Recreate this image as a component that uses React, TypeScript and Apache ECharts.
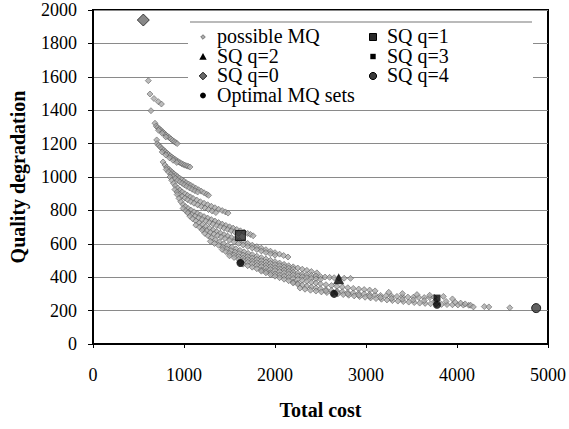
import React, { useEffect, useRef } from "react";
import * as echarts from "echarts";

const FONT = "Liberation Serif";
const SERIF20 = "20px 'Liberation Serif'";

// ---- tick labels ----
const xTickLabels = [0, 1000, 2000, 3000, 4000, 5000];
const yTickLabels = [0, 200, 400, 600, 800, 1000, 1200, 1400, 1600, 1800, 2000];

// ---- legend entries (column, row) ----
const legendNames = ["possible MQ", "SQ q=2", "SQ q=0", "Optimal MQ sets", "SQ q=1", "SQ q=3", "SQ q=4"];

// ---- possible MQ (grey cloud), read band by band ----
const topIsolated = [[608,1577],[626,1497],[670,1470],[718,1451],[752,1437],[637,1397]];
const bandA = [[681,1322],[695,1305],[712,1297],[730,1288],[748,1279],[766,1270],[784,1261],[802,1252],[820,1244],[838,1236],[856,1228],[874,1220],[892,1212],[910,1206],[925,1200],[720,1280],[760,1262],[800,1240]];
const bandB = [[700,1222],[705,1200],[722,1190],[740,1180],[758,1170],[776,1161],[794,1152],[812,1143],[830,1135],[848,1127],[866,1119],[884,1112],[902,1105],[920,1098],[938,1092],[956,1086],[974,1080],[992,1075],[1010,1071],[1028,1067],[1046,1064],[1066,1060],[760,1150],[800,1132],[840,1115],[880,1100],[920,1087]];
const bandC = [[770,1090],[790,1072],[810,1058],[830,1048],[850,1038],[870,1028],[890,1019],[910,1010],[930,1002],[950,994],[975,984],[1000,975],[1025,966],[1050,958],[1075,950],[1100,942],[1130,933],[1160,924],[1190,915],[1220,906],[1250,897],[1270,890]];
const bandC2 = [[805,1045],[830,1030],[855,1016],[880,1003],[905,992],[930,981],[955,971],[980,962],[1005,953],[1030,944],[1060,935],[1090,926],[1120,918],[1150,910]];
const band2 = [[846,1000],[865,980],[885,962],[905,947],[930,934],[955,922],[980,911],[1010,900],[1040,890],[1070,881],[1100,872],[1140,862],[1180,852],[1220,843],[1260,834],[1300,825],[1340,816],[1380,807],[1420,799],[1455,791],[1484,784]];
const band2b = [[900,925],[925,910],[950,897],[980,885],[1010,874],[1040,864],[1075,853],[1110,843],[1150,833],[1190,823],[1230,814],[1270,805],[1310,796],[1350,787]];
const band3 = [[925,895],[945,872],[965,852],[990,835],[1015,823],[1045,812],[1075,802],[1110,792],[1145,782],[1180,773],[1220,763],[1260,754],[1300,745],[1340,736],[1380,727],[1420,718],[1460,710],[1500,702],[1540,694],[1580,686],[1620,678],[1660,670],[1700,662],[1730,656],[1760,648]];
const band3b = [[990,812],[1020,798],[1050,787],[1085,776],[1120,766],[1160,756],[1200,746],[1240,737],[1280,728],[1320,719],[1360,710],[1400,702],[1440,694],[1480,686],[1520,678],[1560,670],[1600,662]];
const band4 = [[1040,785],[1065,765],[1095,750],[1130,737],[1165,725],[1200,714],[1240,703],[1280,693],[1320,683],[1360,673],[1400,664],[1440,655],[1480,646],[1520,638],[1565,629],[1610,620],[1655,611],[1700,602],[1750,592],[1800,583],[1850,574],[1900,565],[1950,556],[2000,547],[2050,538],[2095,530],[2143,521]];
const band4b = [[1130,712],[1170,700],[1210,689],[1250,679],[1290,669],[1330,659],[1370,650],[1410,641],[1450,632],[1500,622],[1550,612],[1600,602],[1650,593],[1700,584],[1750,575],[1800,566],[1850,557],[1900,548],[1950,540],[2000,532]];
const band5 = [[1200,682],[1230,662],[1265,648],[1300,636],[1345,623],[1390,611],[1435,600],[1480,590],[1525,580],[1570,570],[1615,561],[1660,552],[1705,543],[1750,535],[1800,526],[1850,517],[1900,509],[1950,501],[2000,493],[2050,485],[2100,477],[2150,469],[2200,462],[2250,455],[2300,448],[2350,441],[2400,434],[2460,426]];
const band5b = [[1290,615],[1335,602],[1380,591],[1425,580],[1470,570],[1515,560],[1560,551],[1605,542],[1650,533],[1700,524],[1750,515],[1800,507],[1850,499],[1900,491],[1950,483],[2000,476],[2050,469],[2100,462],[2150,455],[2200,448]];
const band6 = [[1420,566],[1460,553],[1500,544],[1550,534],[1600,524],[1650,515],[1700,506],[1750,497],[1800,488],[1850,480],[1900,472],[1950,464],[2000,457],[2050,450],[2100,443],[2150,436],[2200,430],[2250,424],[2300,419],[2350,415],[2400,411],[2450,407],[2500,404],[2550,401],[2600,399],[2650,397],[2700,395],[2760,394],[2830,393]];
const band6b = [[1500,528],[1550,518],[1600,508],[1650,499],[1700,490],[1750,481],[1800,472],[1850,464],[1900,456],[1950,448],[2000,441],[2050,434],[2100,427],[2150,420],[2200,414],[2250,408],[2300,403],[2350,398],[2400,394],[2450,390],[2500,387]];
const band7 = [[1615,488],[1650,478],[1700,469],[1750,460],[1800,451],[1850,443],[1900,435],[1950,427],[2000,420],[2050,413],[2100,406],[2150,399],[2200,393],[2250,387],[2300,381],[2350,375],[2400,370],[2450,365],[2500,360],[2560,355],[2620,350],[2680,345],[2740,341],[2800,337],[2860,333],[2920,329],[2980,326],[3040,323]];
const band7b = [[1850,436],[1900,426],[1950,416],[2000,406],[2050,397],[2100,388],[2150,379],[2200,371],[2250,363]];
const band8 = [[2200,365],[2250,358],[2300,352],[2350,346],[2400,341],[2450,336],[2500,331],[2560,326],[2620,321],[2680,317],[2740,313],[2800,309],[2860,306],[2920,303],[2980,300],[3040,297],[3100,294],[3160,291],[3220,289],[3280,287],[3340,285],[3400,283],[3460,281],[3520,280],[3580,279],[3640,278],[3700,278],[3750,280]];
const band9 = [[2275,335],[2330,328],[2390,322],[2450,317],[2510,312],[2570,308],[2630,304],[2690,300],[2750,296],[2810,292],[2870,288],[2930,284],[2990,280],[3050,276],[3110,272],[3170,268],[3230,264],[3290,260],[3350,257],[3410,254],[3470,251],[3530,248],[3590,245],[3650,243],[3710,241],[3770,239],[3830,237],[3890,236],[3950,235],[4010,234],[4070,233],[4130,232]];
const band9b = [[2560,319],[2680,309],[2800,300],[2920,293],[3040,286],[3160,279],[3280,273],[3400,268],[3520,264],[3640,260],[3760,258],[3880,255],[3980,250]];
const upperRight = [[3100,318],[3250,310],[3400,302],[3560,296],[3700,292],[3850,285],[3950,270]];
const tail = [[4040,245],[4090,240],[4150,232],[4180,222],[4300,224],[4350,222],[4580,217]];

const possibleMQ = [
  ...topIsolated, ...bandA, ...bandB, ...bandC, ...bandC2, ...band2, ...band2b,
  ...band3, ...band3b, ...band4, ...band4b, ...band5, ...band5b, ...band6, ...band6b,
  ...band7, ...band7b, ...band8, ...band9, ...band9b, ...upperRight, ...tail,
];

// ---- single-quality and optimal sets ----
const sqQ0 = [[553, 1940]];
const sqQ1 = [[1620, 650]];
const sqQ2 = [[2700, 390]];
const sqQ3 = [[3780, 275]];
const sqQ4 = [[4870, 215]];
const optimalMQ = [[1620, 485], [2650, 300], [3780, 235]];

// legend layout (icon centre x per column, row centres)
const COL_X = [203, 373];
const ROW_Y = [37, 56.5, 76, 95.5];

function legendIcon(name: string, cx: number, cy: number): any {
  switch (name) {
    case "possible MQ":
      return { type: "polygon", z: 6, shape: { points: [[cx, cy - 2.3], [cx + 2.3, cy], [cx, cy + 2.3], [cx - 2.3, cy]] }, style: { fill: "#aaaaaa", stroke: "#555555", lineWidth: 0.7 } };
    case "SQ q=2":
      return { type: "polygon", z: 6, shape: { points: [[cx - 3.7, cy + 3.3], [cx, cy - 3.5], [cx + 3.7, cy + 3.3]] }, style: { fill: "#000" } };
    case "SQ q=0":
      return { type: "polygon", z: 6, shape: { points: [[cx, cy - 3.8], [cx + 3.8, cy], [cx, cy + 3.8], [cx - 3.8, cy]] }, style: { fill: "#6a6a6a", stroke: "#1a1a1a", lineWidth: 1 } };
    case "Optimal MQ sets":
      return { type: "circle", z: 6, shape: { cx, cy, r: 2.9 }, style: { fill: "#000" } };
    case "SQ q=1":
      return { type: "rect", z: 6, shape: { x: cx - 3.5, y: cy - 3.5, width: 7, height: 7 }, style: { fill: "#2a2a2a", stroke: "#000", lineWidth: 1 } };
    case "SQ q=3":
      return { type: "rect", z: 6, shape: { x: cx - 2.7, y: cy - 2.7, width: 5.4, height: 5.4 }, style: { fill: "#000" } };
    default:
      return { type: "circle", z: 6, shape: { cx, cy, r: 3.6 }, style: { fill: "#3a3a3a", stroke: "#000", lineWidth: 1 } };
  }
}

export default function App() {
  const ref = useRef<HTMLDivElement>(null);
  useEffect(() => {
    const chart = echarts.init(ref.current!, null, { renderer: "svg" });

    const legendEls: any[] = [
      { type: "rect", z: 1, shape: { x: 188, y: 22, width: 345, height: 84 }, style: { fill: "#fff" } },
      { type: "line", z: 1, shape: { x1: 190, y1: 22, x2: 532, y2: 22 }, style: { stroke: "#777", lineWidth: 1.2 } },
    ];
    legendNames.forEach((name, i) => {
      const col = i < 4 ? 0 : 1;
      const row = i < 4 ? i : i - 4;
      const cx = COL_X[col];
      const cy = ROW_Y[row];
      legendEls.push(legendIcon(name, cx, cy));
      legendEls.push({ type: "text", z: 6, x: cx + 14, y: cy - 11, style: { text: name, font: SERIF20, fill: "#000" } });
    });

    const option: any = {
      animation: false,
      backgroundColor: "#fff",
      grid: { left: 93, right: 21, top: 10, bottom: 85, show: true, borderColor: "#000", borderWidth: 2, backgroundColor: "transparent" },
      xAxis: {
        type: "value", min: 0, max: 5000, interval: 1000,
        name: "Total cost", nameLocation: "middle", nameGap: 56,
        nameTextStyle: { fontFamily: FONT, fontWeight: "bold", fontSize: 20, color: "#000" },
        axisLine: { show: true, lineStyle: { color: "#000", width: 2 } },
        axisTick: { show: true, length: 4, lineStyle: { color: "#000" } },
        axisLabel: { show: false },
        splitLine: { show: false },
      },
      yAxis: {
        type: "value", min: 0, max: 2000, interval: 200,
        name: "Quality degradation", nameLocation: "middle", nameGap: 65,
        nameTextStyle: { fontFamily: FONT, fontWeight: "bold", fontSize: 20, color: "#000" },
        axisLine: { show: true, lineStyle: { color: "#000", width: 2 } },
        axisTick: { show: true, length: 5, lineStyle: { color: "#000" } },
        axisLabel: { show: false },
        splitLine: { show: true, lineStyle: { color: "#8a8a8a", width: 1 } },
      },
      graphic: legendEls,
      series: [
        { name: "possible MQ", type: "scatter", data: possibleMQ, symbol: "diamond", symbolSize: 6, silent: true,
          itemStyle: { color: "#aaaaaa", borderColor: "#555555", borderWidth: 0.7 } },
        { name: "SQ q=0", type: "scatter", data: sqQ0, symbol: "diamond", symbolSize: 12, silent: true,
          itemStyle: { color: "#6a6a6a", borderColor: "#1a1a1a", borderWidth: 1 } },
        { name: "SQ q=1", type: "scatter", data: sqQ1, symbol: "rect", symbolSize: 10, silent: true,
          itemStyle: { color: "#2a2a2a", borderColor: "#000", borderWidth: 1 } },
        { name: "SQ q=2", type: "scatter", data: sqQ2, symbol: "triangle", symbolSize: 11, silent: true,
          itemStyle: { color: "#000" } },
        { name: "SQ q=3", type: "scatter", data: sqQ3, symbol: "rect", symbolSize: 7, silent: true,
          itemStyle: { color: "#000" } },
        { name: "SQ q=4", type: "scatter", data: sqQ4, symbol: "circle", symbolSize: 9, silent: true,
          itemStyle: { color: "#3a3a3a", borderColor: "#000", borderWidth: 1 } },
        { name: "Optimal MQ sets", type: "scatter", data: optimalMQ, symbol: "circle", symbolSize: 8, silent: true,
          itemStyle: { color: "#000" } },
      ],
    };
    chart.setOption(option);

    // tick labels placed through the axes' own scales (20px serif scaled to 18px)
    const S = 0.9;
    const axisY = chart.convertToPixel({ yAxisIndex: 0 }, 0) as number;
    const axisX = chart.convertToPixel({ xAxisIndex: 0 }, 0) as number;
    const labelEls: any[] = [];
    if (isFinite(axisY) && isFinite(axisX)) {
      xTickLabels.forEach((v) => {
        const t = String(v);
        const w = t.length * 10 * S;
        const px = chart.convertToPixel({ xAxisIndex: 0 }, v) as number;
        labelEls.push({ type: "text", z: 5, x: px - w / 2, y: axisY + 31 - 10 * S, scaleX: S, scaleY: S,
          style: { text: t, font: SERIF20, fill: "#000" } });
      });
      yTickLabels.forEach((v) => {
        const t = String(v);
        const w = t.length * 10 * S;
        const py = chart.convertToPixel({ yAxisIndex: 0 }, v) as number;
        labelEls.push({ type: "text", z: 5, x: axisX - 16 - w, y: py - 10 * S, scaleX: S, scaleY: S,
          style: { text: t, font: SERIF20, fill: "#000" } });
      });
      chart.setOption({ graphic: [...legendEls, ...labelEls] });
    }
    return () => chart.dispose();
  }, []);
  return <div ref={ref} style={{ position: "absolute", left: 0, top: 0, width: 569, height: 429, background: "#fff" }} />;
}
